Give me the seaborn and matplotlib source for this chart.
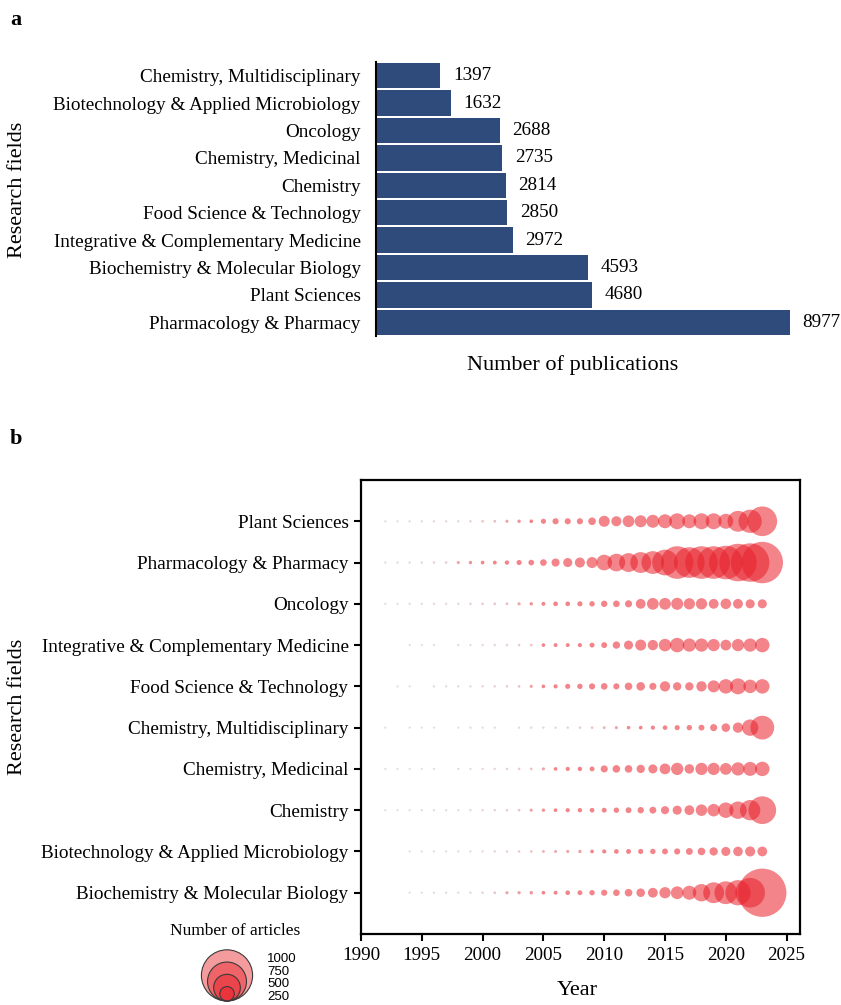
import numpy as np
import pandas as pd
import matplotlib
matplotlib.use("Agg")
import matplotlib.pyplot as plt
from matplotlib.colors import LinearSegmentedColormap
from matplotlib.patches import Circle
import seaborn as sns

# ---- panel a: publications per field (top to bottom) ----
bar_fields = ["Chemistry, Multidisciplinary", "Biotechnology & Applied Microbiology",
              "Oncology", "Chemistry, Medicinal", "Chemistry", "Food Science & Technology",
              "Integrative & Complementary Medicine", "Biochemistry & Molecular Biology",
              "Plant Sciences", "Pharmacology & Pharmacy"]
bar_counts = [1397, 1632, 2688, 2735, 2814, 2850, 2972, 4593, 4680, 8977]

years = list(range(1992, 2024))
field_order = ["Plant Sciences", "Pharmacology & Pharmacy", "Oncology",
               "Integrative & Complementary Medicine", "Food Science & Technology",
               "Chemistry, Multidisciplinary", "Chemistry, Medicinal", "Chemistry",
               "Biotechnology & Applied Microbiology", "Biochemistry & Molecular Biology"]
plant = [2, 2, 3, 3, 4, 4, 5, 6, 10, 12, 20, 25, 30, 60, 80, 80, 80, 110,
         180, 160, 195, 200, 220, 240, 280, 240, 280, 280, 260, 380, 430, 560]
pharma = [3, 4, 4, 5, 6, 8, 20, 25, 30, 35, 45, 60, 70, 90, 120, 140, 160, 180,
          275, 315, 340, 380, 420, 480, 620, 580, 620, 620, 640, 720, 740, 800]
oncology = [2, 2, 3, 3, 4, 4, 5, 6, 8, 10, 12, 20, 25, 35, 50, 50, 60, 65,
            85, 90, 100, 155, 195, 195, 200, 185, 185, 155, 170, 155, 140, 140]
integrative = [0, 0, 2, 2, 2, 0, 3, 3, 4, 5, 6, 8, 10, 30, 35, 35, 40, 55,
               75, 105, 140, 180, 165, 210, 250, 225, 225, 205, 175, 205, 225, 250]
food = [0, 2, 2, 0, 3, 3, 4, 4, 5, 6, 8, 10, 20, 30, 40, 60, 65, 80,
        90, 80, 110, 130, 100, 165, 125, 125, 165, 200, 250, 280, 230, 250]
chem_multi = [2, 0, 2, 2, 2, 0, 2, 3, 3, 3, 0, 4, 4, 5, 5, 6, 8, 10,
              15, 20, 28, 30, 40, 48, 60, 65, 75, 100, 130, 165, 290, 440]
chem_med = [2, 2, 2, 2, 3, 0, 3, 3, 4, 5, 6, 8, 10, 20, 30, 40, 45, 55,
            100, 110, 110, 125, 140, 175, 205, 150, 205, 205, 195, 225, 240, 250]
chemistry = [2, 2, 2, 3, 3, 3, 3, 4, 5, 6, 8, 10, 20, 25, 30, 40, 45, 50,
             55, 65, 75, 85, 95, 120, 140, 155, 190, 210, 270, 310, 370, 520]
biotech = [0, 0, 2, 2, 2, 2, 3, 3, 4, 5, 6, 8, 10, 15, 18, 20, 22, 30,
           40, 50, 55, 60, 65, 75, 80, 95, 110, 125, 140, 150, 160, 155]
biochem = [0, 0, 2, 2, 3, 3, 3, 4, 6, 10, 20, 22, 25, 30, 35, 50, 55, 65,
           80, 90, 110, 130, 155, 185, 215, 240, 310, 380, 420, 470, 560, 940]
legend_values = [1000, 750, 500, 250]

series = [plant, pharma, oncology, integrative, food, chem_multi,
          chem_med, chemistry, biotech, biochem]

DPI = 100
W, H = 841, 1005


def diam_px(n):
    # bubble diameter grows linearly with the count
    return 2.2 + 0.049 * np.asarray(n, dtype=float)


rows = []
for name, vals in zip(field_order, series):
    for yr, v in zip(years, vals):
        if v > 0:
            rows.append((name, yr, v))
df = pd.DataFrame(rows, columns=["field", "year", "count"])
df["field"] = pd.Categorical(df["field"], categories=field_order)
df["area"] = (diam_px(df["count"]) * 72 / DPI) ** 2

sns.set_theme(style="white")
plt.rcParams["font.family"] = ["Liberation Serif", "DejaVu Serif"]
plt.rcParams["text.color"] = "black"

LABEL_FS = 13.8
TITLE_FS = 16


def px_box(l, t, r, b):
    return [l / W, 1 - b / H, (r - l) / W, (b - t) / H]


fig = plt.figure(figsize=(W / DPI, H / DPI), dpi=DPI)

# ---- panel a ----
ax1 = fig.add_axes(px_box(376, 62, 800, 336))
sns.barplot(x=bar_counts, y=bar_fields, orient="h", color="#2f4b7c",
            saturation=1, width=0.92, linewidth=0, ax=ax1)
ax1.bar_label(ax1.containers[0], padding=9, fontsize=LABEL_FS)
ax1.set_xlim(0, 9194)
ax1.set_ylim(9.5, -0.5)
ax1.set_xticks([])
ax1.set_xlabel("")
ax1.set_ylabel("")
for s in ["top", "right", "bottom"]:
    ax1.spines[s].set_visible(False)
ax1.spines["left"].set_color("black")
ax1.spines["left"].set_linewidth(1.5)
ax1.tick_params(axis="y", length=0, pad=11, labelsize=LABEL_FS, labelcolor="black")

fig.text(10 / W, 1 - 20 / H, "a", fontsize=16, fontweight="bold", va="center")
fig.text(573 / W, 1 - 365 / H, "Number of publications", fontsize=TITLE_FS,
         ha="center", va="center")
fig.text(18 / W, 1 - 190 / H, "Research fields", fontsize=TITLE_FS, rotation=90,
         ha="center", va="center")

# ---- panel b ----
ax2 = fig.add_axes(px_box(361, 480, 800, 934))
cmap = LinearSegmentedColormap.from_list("fade", ["#d0d0d0", "#e8202a"])
amin, amax = df["area"].min(), df["area"].max()
sns.scatterplot(data=df, x="year", y="field", hue="count", palette=cmap,
                hue_norm=(0, 30), size="area", sizes=(amin, amax),
                size_norm=(amin, amax), alpha=0.55, linewidth=0,
                legend=False, ax=ax2)
ax2.set_xlim(1990, 2026.1)
ax2.set_xticks(range(1990, 2026, 5))
ax2.set_ylim(10.0, -1.0)
ax2.set_xlabel("")
ax2.set_ylabel("")
for s in ax2.spines.values():
    s.set_color("black")
    s.set_linewidth(1.6)
ax2.tick_params(bottom=True, left=True, direction="out", length=5, width=1.5,
                color="black", labelsize=LABEL_FS, labelcolor="black", pad=4)

fig.text(10 / W, 1 - 439 / H, "b", fontsize=16, fontweight="bold", va="center")
fig.text(577 / W, 1 - 990 / H, "Year", fontsize=TITLE_FS, ha="center", va="center")
fig.text(18 / W, 1 - 707 / H, "Research fields", fontsize=TITLE_FS, rotation=90,
         ha="center", va="center")

# ---- size key ----
axk = fig.add_axes(px_box(150, 945, 300, 1003))
axk.set_xlim(0, 150)
axk.set_ylim(0, 58)
axk.axis("off")
for v in legend_values:
    r = diam_px(v) / 2
    axk.add_patch(Circle((77, 2 + r), r, facecolor=(0.91, 0.13, 0.16, 0.45),
                         edgecolor="#3a3a3a", linewidth=0.8))
for v, yy in zip(legend_values, [44, 31.5, 19, 6]):
    axk.text(117, yy, str(v), fontsize=9.5, family=["Liberation Sans"],
             va="center", ha="left")
fig.text(235 / W, 1 - 931 / H, "Number of articles", fontsize=12.5,
         ha="center", va="center")

fig.savefig("out.png", dpi=DPI)
